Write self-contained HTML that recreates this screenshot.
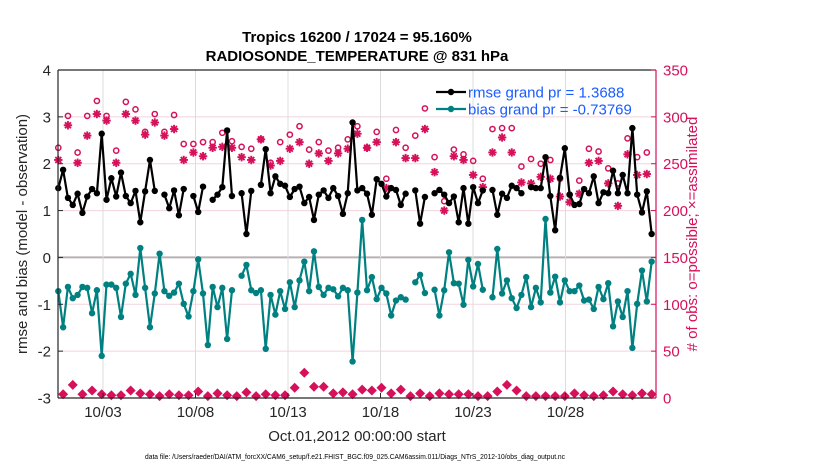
<!DOCTYPE html>
<html><head><meta charset="utf-8">
<style>
body{margin:0;background:#fff;}
svg{display:block;font-family:"Liberation Sans",Arial,sans-serif;}
</style></head>
<body>
<svg id="chart" width="830" height="470" viewBox="0 0 830 470" xmlns="http://www.w3.org/2000/svg">
  <rect x="0" y="0" width="830" height="470" fill="#fff"/>
  <text x="357" y="42" text-anchor="middle" font-size="15" font-weight="bold" fill="#000">Tropics 16200 / 17024 = 95.160%</text>
  <text x="357" y="61" text-anchor="middle" font-size="15" font-weight="bold" fill="#000">RADIOSONDE_TEMPERATURE @ 831 hPa</text>
  <g id="grid"></g>
  <g id="marks"></g>
  <g id="axes"></g>
  <text transform="translate(27,234) rotate(-90)" text-anchor="middle" font-size="15" fill="#262626">rmse and bias (model - observation)</text>
  <text transform="translate(697,234) rotate(-90)" text-anchor="middle" font-size="15" fill="#d6105a"># of obs: o=possible; ×=assimilated</text>
  <text x="357" y="441" text-anchor="middle" font-size="15" fill="#262626">Oct.01,2012 00:00:00 start</text>
  <text x="145" y="459" textLength="420" lengthAdjust="spacingAndGlyphs" font-size="7.5" fill="#000">data file: /Users/raeder/DAI/ATM_forcXX/CAM6_setup/f.e21.FHIST_BGC.f09_025.CAM6assim.011/Diags_NTrS_2012-10/obs_diag_output.nc</text>
  <g>
    <line x1="436" y1="92" x2="466" y2="92" stroke="#000" stroke-width="2.2"/>
    <circle cx="451" cy="92" r="3.2" fill="#000"/>
    <text x="468" y="97.5" font-size="15" fill="#1a5cff">rmse grand pr = 1.3688</text>
    <line x1="436" y1="109" x2="466" y2="109" stroke="#008080" stroke-width="2.2"/>
    <circle cx="451" cy="109" r="3.2" fill="#008080"/>
    <text x="468" y="114.5" font-size="15" fill="#1a5cff">bias grand pr = -0.73769</text>
  </g>
</svg>
<script>
const rmse = [1.48,1.87,1.27,1.12,1.36,0.95,1.30,1.46,1.37,2.64,1.23,1.69,1.30,1.81,1.31,1.16,1.42,0.75,1.41,2.08,1.42,null,1.34,1.05,1.43,0.90,1.46,null,1.31,0.97,1.51,null,1.23,1.34,1.50,2.71,1.31,null,1.37,0.50,1.42,null,1.55,2.31,1.37,1.73,1.57,1.53,1.29,1.46,1.51,1.16,1.29,0.80,1.34,1.43,1.27,1.48,1.31,0.93,1.37,2.88,1.43,1.48,1.36,0.91,1.67,1.57,1.30,1.48,1.44,1.12,1.36,null,1.43,0.72,1.29,null,1.37,1.44,1.34,1.16,1.30,0.75,1.48,0.72,1.50,1.16,1.43,null,1.44,0.91,1.36,1.27,1.53,1.48,1.37,null,1.50,1.48,1.48,2.14,1.31,0.58,1.70,2.33,1.34,1.12,1.14,1.46,1.37,1.73,1.16,1.39,1.37,1.85,1.37,1.76,1.37,2.76,1.34,0.96,1.41,0.50];
const bias = [-0.72,-1.49,-0.63,-0.87,-0.80,-0.63,-0.65,-1.19,-0.70,-2.10,-0.58,-0.58,-0.65,-1.27,-0.56,-0.35,-0.80,0.20,-0.65,-1.49,-0.77,0.08,-0.72,-0.82,-0.75,-0.56,-0.99,-1.26,-0.72,-0.04,-0.77,-1.87,-0.63,-1.06,-0.65,-1.74,-0.70,null,-0.39,-0.16,-0.70,-0.76,-0.70,-1.95,-0.80,-1.22,-0.72,-1.10,-0.53,-1.06,-0.49,-0.09,-0.72,0.13,-0.63,-0.80,-0.65,-0.68,-0.83,-0.65,-0.70,-2.22,-0.75,0.80,-0.70,-0.42,-0.89,-0.65,-0.77,-1.24,-0.92,-0.85,-0.90,null,-0.53,-0.37,-0.76,null,-0.69,-1.24,-0.70,0.11,-0.55,-0.56,-1.01,-0.05,-0.62,-0.14,-0.69,null,-0.85,0.18,-0.77,-0.49,-0.87,-1.08,-0.80,-0.42,-1.06,-0.65,-0.96,0.82,-0.75,-0.41,-0.96,-0.49,-0.72,-0.72,-0.60,-0.92,-0.90,-1.10,-0.63,-0.89,-0.55,-1.47,-0.94,-1.27,-0.72,-1.93,-0.99,-0.28,-0.94,-0.09];
const possible = [267,301,262,301,317,301,264,316,308,284,303,284,302,271,271,273,273,283,274,268,266,276,251,273,281,290,265,273,264,267,276,290,267,284,234,286,267,280,309,257,210,265,260,253,234,287,288,288,247,255,250,254,234,217,232,266,263,245,229,277,257,262];
const assimilated = [254,291,251,280,303,296,251,303,296,281,294,280,287,254,262,258,267,268,267,257,254,276,248,253,266,273,250,261,253,261,266,282,267,273,224,273,256,256,287,241,200,258,254,238,225,262,278,262,230,229,236,234,215,209,218,251,253,229,205,260,238,239];
const lowCount = [4,14,4,8,4,3,3,8,5,4,2,4,3,3,7,2,5,3,2,6,2,4,3,3,11,27,12,12,5,6,4,9,8,11,5,9,2,5,2,5,4,4,4,2,2,7,14,8,2,2,2,2,2,5,3,2,3,7,4,3,5,4];
const leftTicks = [-3,-2,-1,0,1,2,3,4];
const rightTicks = [0,50,100,150,200,250,300,350];
const dateTicks = [2,7,12,17,22,27];
const dateLabels = ["10/03","10/08","10/13","10/18","10/23","10/28"];

const NS="http://www.w3.org/2000/svg";
const PL=58, PR=656, PT=70, PB=398;
const yL = v => PB - (v - (-3)) / 7 * (PB-PT);
const yR = v => PB - v / 350 * (PB-PT);
const xSlot = k => 58.3 + k * 4.824;
const xDay = d => 66 + d * 18.5;
function mk(tag, attrs, parent){const e=document.createElementNS(NS,tag);for(const k in attrs)e.setAttribute(k,attrs[k]);parent.appendChild(e);return e;}
const grid=document.getElementById('grid'), marks=document.getElementById('marks'), axes=document.getElementById('axes');

leftTicks.forEach(v=>{ if(v===-3||v===4) return;
  const l=mk('line',{x1:PL,x2:PR,y1:yL(v),y2:yL(v),stroke:v===0?'#b8b0b4':'#f2d3de','stroke-width':v===0?2:1},grid);
  
  
});
dateTicks.forEach(d=>{
  const l=mk('line',{x1:xDay(d),x2:xDay(d),y1:PT,y2:PB,stroke:'#dcdcdc','stroke-width':1},grid);
  
  
});

function lineSeries(vals,color,name){
  let d='', pen=false;
  vals.forEach((v,k)=>{ if(v===null){pen=false;return;}
    d+=(pen?'L':'M')+xSlot(k).toFixed(1)+' '+yL(v).toFixed(1)+' '; pen=true; });
  const p=mk('path',{d:d,fill:'none',stroke:color,'stroke-width':2.2,'stroke-linejoin':'round'},marks);
  
  
  vals.forEach((v,k)=>{ if(v===null) return;
    const c=mk('circle',{cx:xSlot(k),cy:yL(v),r:3.2,fill:color},marks);
    
    
  });
}
const MAG='#d6105a';
function star(x,y,r,name){
  const g=mk('g',{stroke:MAG,'stroke-width':1.9},marks);
  
  
  for(let i=0;i<4;i++){const a=i*Math.PI/4;mk('line',{x1:x-r*Math.cos(a),y1:y-r*Math.sin(a),x2:x+r*Math.cos(a),y2:y+r*Math.sin(a)},g);}
}
possible.forEach((v,j)=>{
  const c=mk('circle',{cx:xSlot(2*j),cy:yR(v),r:2.6,fill:'none',stroke:MAG,'stroke-width':1.5},marks);
  
  
});
assimilated.forEach((v,j)=>{ star(xSlot(2*j),yR(v),4.2,'assimilated-obs-marker'); });
lowCount.forEach((v,j)=>{
  const x=xSlot(2*j+1), y=yR(v);
  const p=mk('path',{d:`M${x} ${y-5} L${x+5} ${y} L${x} ${y+5} L${x-5} ${y} Z`,fill:MAG},marks);
  
  
});
lineSeries(rmse,'#000','rmse');
lineSeries(bias,'#008080','bias');

[[PL,PT,PR,PT,'#262626','top-axis-line'],[PL,PB,PR,PB,'#262626','x-axis-line'],[PL,PT,PL,PB,'#262626','left-axis-line'],[PR,PT,PR,PB,MAG,'right-axis-line']].forEach(a=>{
  const l=mk('line',{x1:a[0],y1:a[1],x2:a[2],y2:a[3],stroke:a[4],'stroke-width':1.2},axes);
  
  
});
leftTicks.forEach(v=>{
  const l=mk('line',{x1:PL,x2:PL+5,y1:yL(v),y2:yL(v),stroke:'#262626'},axes);
  
  
  const t=mk('text',{x:PL-7,y:yL(v)+5.5,'text-anchor':'end','font-size':15,fill:'#262626'},axes);
  t.textContent=v;
  
  
});
rightTicks.forEach(v=>{
  const l=mk('line',{x1:PR-5,x2:PR,y1:yR(v),y2:yR(v),stroke:MAG},axes);
  
  
  const t=mk('text',{x:PR+7,y:yR(v)+5.5,'font-size':15,fill:MAG},axes);
  t.textContent=v;
  
  
});
dateTicks.forEach((d,i)=>{
  const l=mk('line',{x1:xDay(d),x2:xDay(d),y1:PB-5,y2:PB,stroke:'#262626'},axes);
  
  
  const t=mk('text',{x:xDay(d),y:PB+19,'text-anchor':'middle','font-size':15,fill:'#262626'},axes);
  t.textContent=dateLabels[i];
  
  
});
</script>
</body></html>
